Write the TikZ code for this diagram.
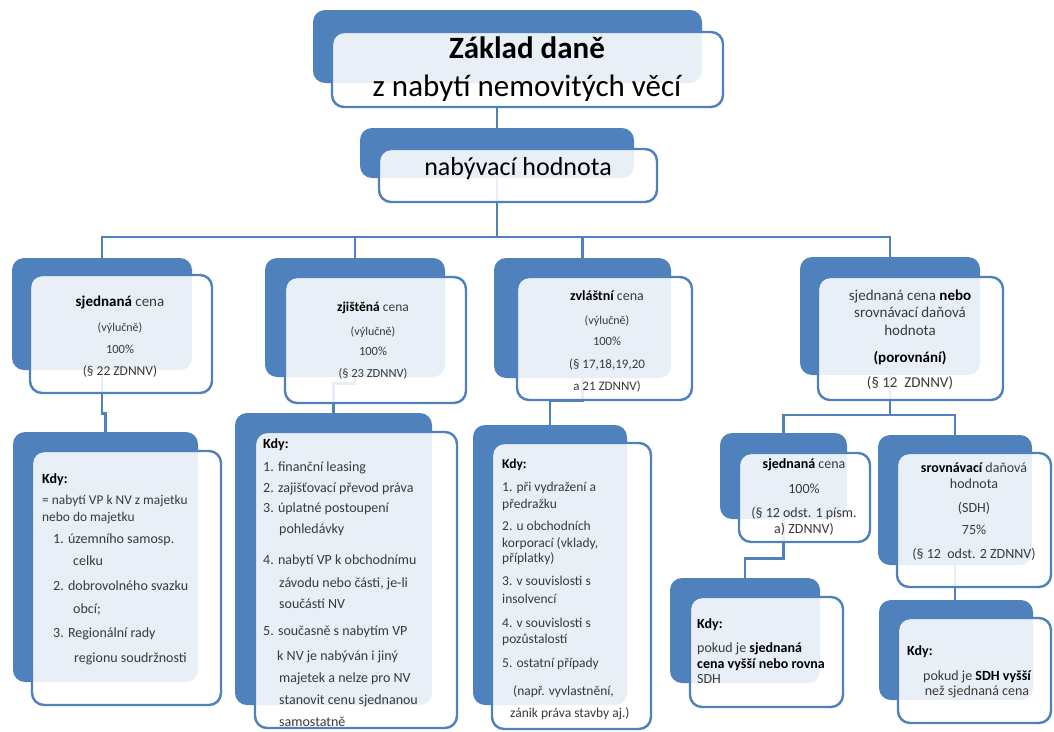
\documentclass[tikz,border=0pt]{standalone}
\usepackage{fontspec}
\setmainfont{Carlito}
\usetikzlibrary{backgrounds}
\definecolor{sblue}{HTML}{4F81BD}
\definecolor{txtc}{HTML}{3A3A3A}
\pgfdeclarelayer{bottom}
\pgfsetlayers{bottom,background,main}
\tikzset{
  backbox/.style={fill=sblue, rounded corners=12pt, inner sep=0pt, draw=none},
  frontbox/.style={draw=sblue, line width=2.4pt, fill=white, fill opacity=0.88, rounded corners=12pt, inner sep=0pt},
  conn/.style={draw=sblue, line width=2.8pt},
  tc/.style={anchor=base, inner sep=0pt, text=txtc, font=\fontsize{14}{16}\selectfont},
  tl/.style={tc, anchor=base west},
  small/.style={font=\fontsize{12}{14}\selectfont},
}
\newcommand\mkpair[9]{%
  \node[backbox, minimum width={(#4-#2)*1pt}, minimum height={(#5-#3)*1pt}] (#1b) at ({(#2+#4)/2},{(#3+#5)/2}) {};
  \node[frontbox, minimum width={(#8-#6)*1pt}, minimum height={(#9-#7)*1pt}] (#1f) at ({(#6+#8)/2},{(#7+#9)/2}) {};
}
\begin{document}
\begin{tikzpicture}[x=1pt,y=-1pt]
\useasboundingbox (0,0) rectangle (1054,731);
\begin{pgfonlayer}{bottom}
  \fill[white] (0,0) rectangle (1054,731);
\end{pgfonlayer}

% boxes
\mkpair{T}{313}{10}{702}{83}{332}{32}{723}{107}
\mkpair{N}{360}{128}{634}{178}{379}{149}{657}{202}
\mkpair{A}{12}{258}{192}{370}{30}{275}{212}{393}
\mkpair{B}{265}{258}{445}{377}{285}{277}{466}{403}
\mkpair{C}{494}{258}{671}{378}{517}{277}{692}{400}
\mkpair{D}{800}{257}{980}{375}{818}{277}{1003}{400}
\mkpair{P}{13}{432}{198}{682}{32}{451}{221}{705}
\mkpair{Q}{235}{413}{432}{705}{255}{432}{457}{728}
\mkpair{R}{473}{425}{627}{705}{492}{443}{651}{729}
\mkpair{E}{720}{433}{847}{519}{739}{453}{870}{542}
\mkpair{F}{878}{435}{1032}{565}{897}{453}{1051}{587}
\mkpair{G}{670}{578}{820}{683}{690}{597}{843}{707}
\mkpair{H}{879}{600}{1033}{700}{898}{618}{1051}{723}

% connectors
\begin{pgfonlayer}{background}
  \draw[conn] (Tf.south -| Nb.north) -- (Nb.north);
  \coordinate (bus) at (Nb.south |- 0,237);
  \draw[conn] (Nb.south) -- (bus);
  \draw[conn] (Ab.north) |- (bus);
  \draw[conn] (Bb.north) |- (bus);
  \draw[conn] (Cb.north) |- (bus);
  \draw[conn] (Db.north) |- (bus);
  \draw[conn] (Ab.south) -- ++(0,43) -| (Pb.north);
  \draw[conn] (Bb.south) -- ++(0,6) -| (Qb.north);
  \draw[conn] (Cb.south) -- ++(0,22) -| (Rb.north);
  \coordinate (sub) at (Db.south |- 0,415);
  \draw[conn] (Db.south) -- (sub);
  \draw[conn] (Eb.north) |- (sub);
  \draw[conn] (Fb.north) |- (sub);
  \draw[conn] (Eb.south) -- ++(0,39) -| (Gb.north);
  \draw[conn] (Fb.south) -- (Fb.south |- Hb.north);
\end{pgfonlayer}

% title
\node[tc, text=black, font=\fontsize{31}{34}\selectfont\bfseries] (t1) at (527,58) {Základ daně};
\node[tc, text=black, font=\fontsize{31}{34}\selectfont] (t2) at (527,96) {z nabytí nemovitých věcí};
\node[tc, text=black, font=\fontsize{26}{30}\selectfont] (n1) at (518,175) {nabývací hodnota};

% A
\node[tc, font=\fontsize{15}{16}\selectfont] (a1) at (120,306) {\textbf{\color{black}sjednaná} cena};
\node[tc, small] (a2) at (120,331) {(výlučně)};
\node[tc, font=\fontsize{12.5}{14}\selectfont] (a3) at (120,353.5) {100\%};
\node[tc, font=\fontsize{13.5}{16}\selectfont] (a4) at (120,375) {(§ 22 ZDNNV)};
% B
\node[tc, font=\fontsize{13.5}{16}\selectfont] (b1) at (373,311) {\textbf{\color{black}zjištěná} cena};
\node[tc, small] (b2) at (373,335) {(výlučně)};
\node[tc, font=\fontsize{12.5}{14}\selectfont] (b3) at (373,355.5) {100\%};
\node[tc, font=\fontsize{12.5}{14}\selectfont] (b4) at (373,377) {(§ 23 ZDNNV)};
% C
\node[tc] (c1) at (607,300) {\textbf{\color{black}zvláštní} cena};
\node[tc, small] (c2) at (607,324) {(výlučně)};
\node[tc, font=\fontsize{12.5}{14}\selectfont] (c3) at (607,345) {100\%};
\node[tc, font=\fontsize{13}{14}\selectfont] (c4) at (607,368) {(§ 17,18,19,20};
\node[tc, font=\fontsize{13}{14}\selectfont] (c5) at (607,390) {a 21 ZDNNV)};
% D
\node[tc, font=\fontsize{15}{17}\selectfont] (d1) at (910,300) {sjednaná cena \textbf{\color{black}nebo}};
\node[tc, font=\fontsize{15}{17}\selectfont] (d2) at (910,317) {srovnávací daňová};
\node[tc, font=\fontsize{15}{17}\selectfont] (d3) at (910,335) {hodnota};
\node[tc, font=\fontsize{15}{17}\selectfont\bfseries, text=black] (d4) at (910,362) {(porovnání)};
\node[tc, font=\fontsize{15}{17}\selectfont] (d5) at (910,387) {(§ 12\ \ ZDNNV)};

% P
\node[tl, text=black] (p1) at (42,483) {\textbf{Kdy:}};
\node[tl, font=\fontsize{13.4}{15}\selectfont] (p2) at (42,504) {= nabytí VP k NV z majetku};
\node[tl, font=\fontsize{13.4}{15}\selectfont] (p3) at (42,521) {nebo do majetku};
\node[tl] (p4) at (53,543) {1. územního samosp.};
\node[tl] (p5) at (73,565) {celku};
\node[tl] (p6) at (53,590) {2. dobrovolného svazku};
\node[tl] (p7) at (73,613) {obcí;};
\node[tl] (p8) at (53,637) {3. Regionální rady};
\node[tl] (p9) at (74,662) {regionu soudržnosti};

% Q
\node[tl, text=black] (q1) at (263,448) {\textbf{Kdy:}};
\node[tl] (q2) at (263,471) {1. finanční leasing};
\node[tl] (q3) at (263,492) {2. zajišťovací převod práva};
\node[tl] (q4) at (263,512) {3. úplatné postoupení};
\node[tl] (q5) at (279,533) {pohledávky};
\node[tl] (q6) at (263,564) {4. nabytí VP k obchodnímu};
\node[tl] (q7) at (279,587) {závodu nebo části, je-li};
\node[tl] (q8) at (279,608) {součástí NV};
\node[tl] (q9) at (263,635) {5. současně s nabytím VP};
\node[tl] (q10) at (277,660) {k NV je nabýván i jiný};
\node[tl] (q11) at (279,682) {majetek a nelze pro NV};
\node[tl] (q12) at (279,704) {stanovit cenu sjednanou};
\node[tl] (q13) at (279,726) {samostatně};

% R
\node[tl, text=black, font=\fontsize{13.5}{16}\selectfont] (r1) at (502,468) {\textbf{Kdy:}};
\node[tl, font=\fontsize{13.5}{16}\selectfont] (r2) at (502,491) {1. při vydražení a};
\node[tl, font=\fontsize{13.5}{16}\selectfont] (r3) at (502,508) {předražku};
\node[tl, font=\fontsize{13.5}{16}\selectfont] (r4) at (502,530) {2. u obchodních};
\node[tl, font=\fontsize{13.5}{16}\selectfont] (r5) at (502,547) {korporací (vklady,};
\node[tl, font=\fontsize{13.5}{16}\selectfont] (r6) at (502,562) {příplatky)};
\node[tl, font=\fontsize{13.5}{16}\selectfont] (r7) at (502,585) {3. v souvislosti s};
\node[tl, font=\fontsize{13.5}{16}\selectfont] (r8) at (502,603) {insolvencí};
\node[tl, font=\fontsize{13.5}{16}\selectfont] (r9) at (502,627) {4. v souvislosti s};
\node[tl, font=\fontsize{13.5}{16}\selectfont] (r10) at (502,643) {pozůstalostí};
\node[tl, font=\fontsize{13.5}{16}\selectfont] (r11) at (502,667) {5. ostatní případy};
\node[tl, font=\fontsize{13.5}{16}\selectfont] (r12) at (513,695) {(např. vyvlastnění,};
\node[tl, font=\fontsize{13.5}{16}\selectfont] (r13) at (510,717) {zánik práva stavby aj.)};

% E
\node[tc] (e1) at (804,468) {\textbf{\color{black}sjednaná} cena};
\node[tc] (e2) at (804,493) {100\%};
\node[tc] (e3) at (804,517) {(§ 12 odst. 1 písm.};
\node[tc] (e4) at (804,533) {a) ZDNNV)};
% F
\node[tc] (f1) at (974,472) {\textbf{\color{black}srovnávací} daňová};
\node[tc] (f2) at (974,488) {hodnota};
\node[tc] (f3) at (974,512) {(SDH)};
\node[tc] (f4) at (974,534) {75\%};
\node[tc] (f5) at (974,558) {(§ 12\ \ odst. 2 ZDNNV)};
% G
\node[tl, text=black] (g1) at (697,628) {\textbf{Kdy:}};
\node[tl] (g2) at (697,652) {pokud je \textbf{\color{black}sjednaná}};
\node[tl, text=black] (g3) at (697,668) {\textbf{cena vyšší nebo rovna}};
\node[tl] (g4) at (697,683) {SDH};
% H
\node[tl, text=black] (h1) at (907,655) {\textbf{Kdy:}};
\node[tc] (h2) at (977,680) {pokud je \textbf{\color{black}SDH vyšší}};
\node[tc] (h3) at (977,695) {než sjednaná cena};
\end{tikzpicture}
\end{document}
